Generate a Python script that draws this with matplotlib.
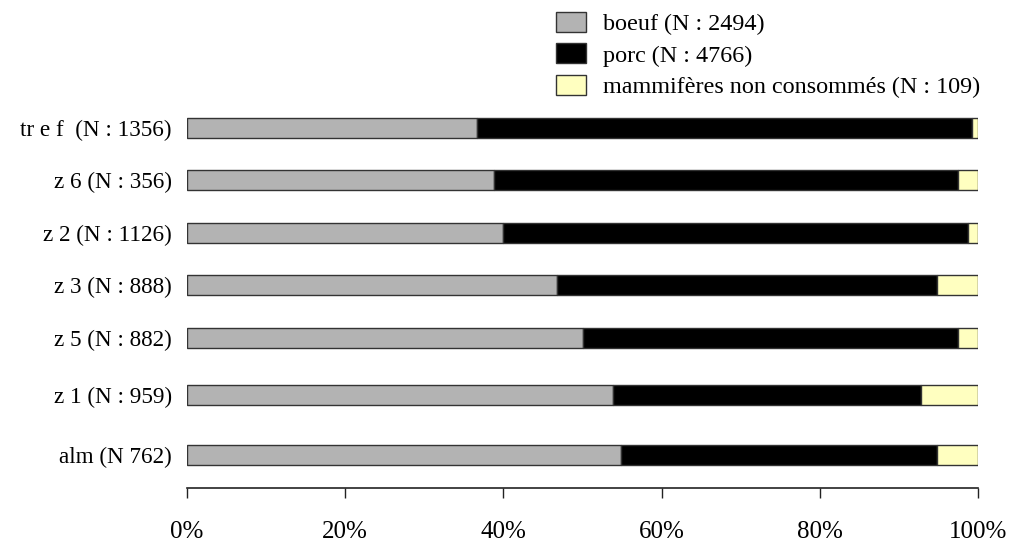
import matplotlib
matplotlib.use("Agg")
import matplotlib.pyplot as plt
from matplotlib.ticker import FuncFormatter

plt.rcParams['font.family'] = ['Liberation Serif', 'DejaVu Serif']

categories = ["tr e f  (N : 1356)", "z 6 (N : 356)", "z 2 (N : 1126)", "z 3 (N : 888)",
              "z 5 (N : 882)", "z 1 (N : 959)", "alm (N 762)"]
boeuf = [36.7, 38.8, 39.9, 46.8, 50.0, 53.9, 54.9]
porc = [62.5, 58.7, 58.8, 48.0, 47.5, 38.9, 39.9]
mammiferes = [0.8, 2.5, 1.3, 5.2, 2.5, 7.2, 5.2]
series_labels = ["boeuf (N : 2494)", "porc (N : 4766)", "mammifères non consommés (N : 109)"]
xticks = [0, 20, 40, 60, 80, 100]

# layout (row positions, slightly uneven as in the original)
ypos = [0, 0.99, 2.0, 2.99, 4.0, 5.09, 6.23]
colors = ["#b3b3b3", "#000000", "#ffffc0"]
FS = 16.7
LFS = 17.4

fig = plt.figure(figsize=(10.13, 5.42), dpi=100)
ax = fig.add_axes([187/1013, 1-488/542, (978-187)/1013, 388/542])

left = [0]*len(categories)
handles = []
for vals, col, lab in zip([boeuf, porc, mammiferes], colors, series_labels):
    h = ax.barh(ypos, vals, left=left, height=0.39, color=col, edgecolor="#333333",
                linewidth=1.0, label=lab)
    handles.append(h)
    left = [a + b for a, b in zip(left, vals)]

ax.set_xlim(0, 100)
ax.set_ylim(6.86, -0.53)
ax.set_yticks(ypos)
ax.set_yticklabels(categories, fontsize=FS)
ax.tick_params(axis='y', length=0, pad=11)
ax.set_xticks(xticks)
ax.xaxis.set_major_formatter(FuncFormatter(lambda v, p: f"{int(v)}%"))
ax.tick_params(axis='x', direction='out', length=7, width=1, labelsize=18, pad=17, color="#222222")
for s in ["top", "right", "left"]:
    ax.spines[s].set_visible(False)
ax.spines["bottom"].set_linewidth(1.2)
ax.spines["bottom"].set_color("#222222")

fig.legend(handles=handles, labels=series_labels, loc="upper left",
           bbox_to_anchor=(544/1013, 1.0), frameon=False, fontsize=LFS,
           handlelength=1.25, handleheight=0.9, handletextpad=0.7, labelspacing=0.33,
           borderaxespad=0.2, borderpad=0.3)

fig.savefig("out.png", dpi=100)
